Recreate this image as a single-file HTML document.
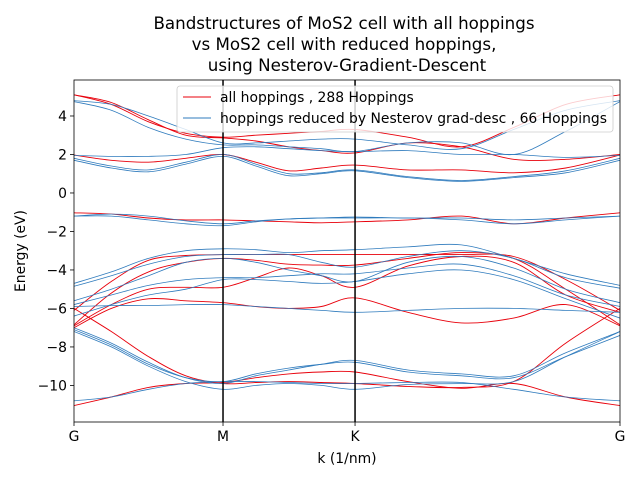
<!DOCTYPE html>
<html><head><meta charset="utf-8"><style>
body{margin:0;background:#fff;}
svg text{font-family:"DejaVu Sans","Liberation Sans",sans-serif;fill:#000;}
</style></head><body>
<svg id="chart" width="640" height="480" xmlns="http://www.w3.org/2000/svg">
<rect width="640" height="480" fill="#fff"/>
<g font-size="16.7" text-anchor="middle">
<text x="344" y="29">Bandstructures of MoS2 cell with all hoppings</text>
<text x="344" y="50">vs MoS2 cell with reduced hoppings,</text>
<text x="347" y="71">using Nesterov-Gradient-Descent</text>
</g>
<g id="plot"></g>
<text x="347" y="463" font-size="13.9" text-anchor="middle">k (1/nm)</text>
<text transform="translate(25,251) rotate(-90)" font-size="13.9" text-anchor="middle">Energy (eV)</text>
</svg>
<script>
const kPoints=[0,0.25,0.5,0.75,1,1.22,1.44,1.66,1.886,2.24,2.6,2.95,3.3,3.664];
const kTickLabels=["G","M","K","G"];
const kTickValues=[0,1,1.886,3.664];
const yTicks=[4,2,0,-2,-4,-6,-8,-10];
const redBands=[
[5.1,4.7,3.8,3.0,2.86,2.7,2.4,2.2,2.08,2.6,2.4,1.75,1.75,2.0],
[5.1,4.6,3.7,3.1,2.9,3.0,3.1,3.2,3.3,2.9,2.4,3.4,4.6,5.1],
[1.97,1.7,1.6,1.8,2.0,1.6,1.15,1.3,1.45,1.2,1.2,1.05,1.3,1.97],
[-1.03,-1.1,-1.3,-1.4,-1.4,-1.45,-1.5,-1.55,-1.5,-1.4,-1.2,-1.6,-1.3,-1.03],
[-6.1,-4.6,-3.5,-3.25,-3.2,-3.2,-3.2,-3.2,-3.2,-3.2,-3.2,-3.3,-4.5,-6.1],
[-6.85,-5.2,-4.1,-3.6,-3.4,-3.5,-3.7,-3.75,-3.75,-3.4,-3.1,-3.4,-5.0,-6.85],
[-6.9,-5.8,-5.0,-4.9,-4.9,-4.4,-3.9,-4.3,-4.9,-3.8,-3.3,-3.6,-5.3,-6.2],
[-7.0,-6.0,-5.5,-5.6,-5.7,-5.9,-6.0,-5.9,-5.45,-6.2,-6.75,-6.5,-5.8,-6.9],
[-6.0,-7.2,-8.5,-9.5,-9.9,-9.85,-9.8,-9.85,-9.9,-10.05,-10.1,-9.8,-7.8,-6.0],
[-11.05,-10.6,-10.1,-9.9,-9.85,-9.6,-9.4,-9.3,-9.3,-9.8,-10.15,-9.9,-10.6,-11.05]];
const blueBands=[
[4.8,4.6,4.0,3.3,2.6,2.6,2.7,2.8,2.8,2.5,2.3,3.3,4.3,4.8],
[4.75,4.3,3.4,2.8,2.5,2.5,2.4,2.3,2.15,2.6,2.6,2.0,3.2,4.75],
[1.95,1.9,1.9,2.0,2.35,2.4,2.3,2.2,2.15,2.2,2.0,2.0,1.85,1.95],
[1.7,1.3,1.1,1.5,1.9,1.4,0.9,1.0,1.15,0.8,0.6,0.8,1.05,1.7],
[1.8,1.4,1.2,1.6,2.0,1.5,1.0,1.05,1.2,0.85,0.65,0.85,1.15,1.8],
[-1.2,-1.2,-1.4,-1.6,-1.7,-1.5,-1.35,-1.3,-1.3,-1.3,-1.4,-1.6,-1.4,-1.2],
[-1.2,-1.1,-1.2,-1.45,-1.6,-1.45,-1.35,-1.3,-1.25,-1.3,-1.3,-1.4,-1.3,-1.2],
[-4.7,-4.1,-3.4,-3.0,-2.9,-2.95,-3.1,-3.0,-2.95,-2.8,-2.7,-3.4,-4.2,-4.8],
[-4.85,-4.3,-3.7,-3.3,-3.2,-3.2,-3.2,-3.6,-3.85,-3.3,-3.0,-3.4,-4.4,-4.95],
[-5.6,-5.0,-4.3,-3.6,-3.4,-3.6,-4.0,-4.3,-4.6,-3.6,-3.3,-3.9,-5.0,-5.7],
[-5.8,-5.3,-4.8,-4.5,-4.4,-4.4,-4.3,-4.2,-4.2,-3.9,-3.7,-4.3,-5.3,-5.9],
[-5.9,-5.85,-5.85,-5.8,-5.8,-5.9,-6.0,-6.1,-6.2,-6.1,-6.0,-6.0,-6.1,-6.2],
[-6.4,-5.8,-5.3,-5.0,-4.5,-4.5,-4.6,-4.7,-4.6,-4.2,-4.0,-4.5,-5.5,-6.5],
[-7.0,-7.8,-8.8,-9.6,-9.9,-9.5,-9.2,-8.9,-8.7,-9.2,-9.4,-9.5,-8.3,-7.2],
[-7.1,-7.9,-8.9,-9.6,-9.8,-9.4,-9.1,-8.9,-8.8,-9.3,-9.5,-9.6,-8.5,-7.4],
[-10.8,-10.6,-10.2,-9.9,-9.8,-9.8,-9.85,-9.9,-9.9,-9.85,-9.85,-10.2,-10.6,-10.8],
[-7.2,-8.0,-9.0,-9.8,-10.2,-10.0,-9.9,-10.0,-10.2,-9.95,-9.9,-9.8,-8.5,-7.2]];

const L=74,R=620,T=80,B=422;
const kMax=3.664,yMin=-11.9,yMax=5.87;
const xs=k=>L+(k/kMax)*(R-L);
const ys=e=>T+(yMax-e)/(yMax-yMin)*(B-T);
const NS="http://www.w3.org/2000/svg";
const plot=document.getElementById('plot');
function mk(tag,attrs,parent){const e=document.createElementNS(NS,tag);for(const a in attrs)e.setAttribute(a,attrs[a]);(parent||plot).appendChild(e);return e;}
function pathFor(vals){
  const p=vals.map((v,i)=>[xs(kPoints[i]),ys(v)]);
  let d=`M${p[0][0].toFixed(1)},${p[0][1].toFixed(1)}`;
  for(let i=0;i<p.length-1;i++){
    const p0=p[Math.max(0,i-1)],p1=p[i],p2=p[i+1],p3=p[Math.min(p.length-1,i+2)];
    const c1=[p1[0]+(p2[0]-p0[0])/6,p1[1]+(p2[1]-p0[1])/6];
    const c2=[p2[0]-(p3[0]-p1[0])/6,p2[1]-(p3[1]-p1[1])/6];
    d+=`C${c1[0].toFixed(1)},${c1[1].toFixed(1)} ${c2[0].toFixed(1)},${c2[1].toFixed(1)} ${p2[0].toFixed(1)},${p2[1].toFixed(1)}`;
  }
  return d;
}
const clip=mk('clipPath',{id:'pc'});mk('rect',{x:L,y:T,width:R-L,height:B-T},clip);
const g=mk('g',{'clip-path':'url(#pc)'});
redBands.forEach((b,i)=>{const e=mk('path',{d:pathFor(b),fill:'none',stroke:'#e8000b','stroke-width':0.9},g);

});
blueBands.forEach((b,i)=>{const e=mk('path',{d:pathFor(b),fill:'none',stroke:'#2f7bbd','stroke-width':0.8},g);

});
kTickValues.forEach((k,i)=>{
  if(i>0&&i<kTickValues.length-1){const v=mk('line',{x1:xs(k),x2:xs(k),y1:T,y2:B,stroke:'#000','stroke-width':1.5});
  
  }
  mk('line',{x1:xs(k),x2:xs(k),y1:B,y2:B+4,stroke:'#000','stroke-width':0.8});
  const t=mk('text',{x:xs(k),y:B+19,'font-size':13.9,'text-anchor':'middle'});t.textContent=kTickLabels[i];
  
  
});
yTicks.forEach(v=>{
  mk('line',{x1:L-4,x2:L,y1:ys(v),y2:ys(v),stroke:'#000','stroke-width':0.8});
  const t=mk('text',{x:L-7,y:ys(v)+5,'font-size':13.9,'text-anchor':'end'});t.textContent=v<0?'\u2212'+(-v):String(v);
  
  
});
const frame=mk('rect',{x:L,y:T,width:R-L,height:B-T,fill:'none',stroke:'#000','stroke-width':0.8});


const lg=mk('g',{});


mk('rect',{x:177,y:86,width:436,height:46,rx:3,fill:'rgba(255,255,255,0.8)',stroke:'#ccc','stroke-width':0.8},lg);
mk('line',{x1:183,x2:211,y1:97,y2:97,stroke:'#e8000b','stroke-width':0.9},lg);
mk('line',{x1:183,x2:211,y1:118,y2:118,stroke:'#2f7bbd','stroke-width':0.9},lg);
const t1=mk('text',{x:220,y:102,'font-size':13.9},lg);t1.textContent='all hoppings , 288 Hoppings';


const t2=mk('text',{x:220,y:123,'font-size':13.9},lg);t2.textContent='hoppings reduced by Nesterov grad-desc , 66 Hoppings';


</script>
</body></html>
